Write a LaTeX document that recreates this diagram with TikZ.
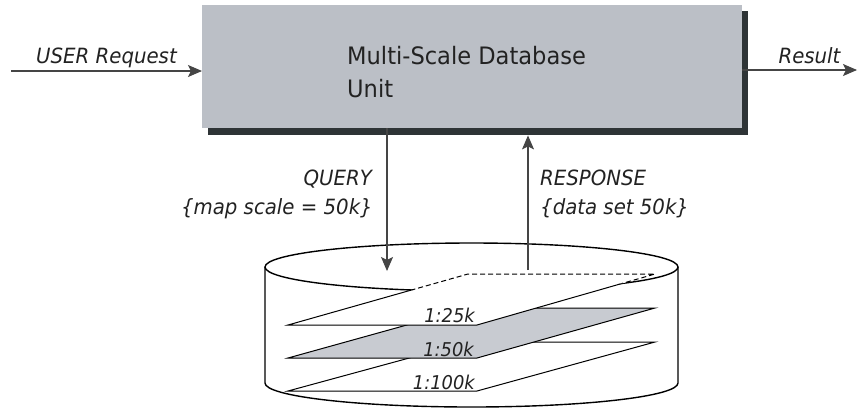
\documentclass[tikz,border=0pt]{standalone}
\usepackage{fontspec}
\setmainfont{DejaVu Sans}[FakeStretch=0.94]
\usetikzlibrary{arrows.meta}

\definecolor{unitfill}{HTML}{BBBFC6}
\definecolor{unitshade}{HTML}{2E3436}
\definecolor{layerfill}{HTML}{C8CBD1}
\definecolor{inktext}{HTML}{222222}
\definecolor{inkline}{HTML}{454545}

\begin{document}
\begin{tikzpicture}[x=1pt,y=1pt,
  flow/.style={draw=inkline, line width=1.1pt,
    -{Stealth[length=14pt,width=12pt,inset=3pt]}},
  lbl/.style={inner sep=0pt, text=inktext,
    font=\fontsize{21}{25}\selectfont\itshape},
  title/.style={inner sep=0pt, text=inktext,
    font=\fontsize{24}{29}\selectfont},
  scalelbl/.style={inner sep=0pt, text=inktext, anchor=base east,
    font=\fontsize{19}{23}\selectfont\itshape},
  rim/.style={draw=black, line width=1.4pt},
  layer/.style={draw=black, line width=1pt, line join=miter},
]
\path[use as bounding box] (0,0) rectangle (858,-408);

% processing unit with its drop shadow
\node[fill=unitshade, inner sep=0pt, minimum width=540pt, minimum height=124pt,
      anchor=north west] (unitshadow) at (208,-11) {};
\node[fill=unitfill, inner sep=0pt, minimum width=540pt, minimum height=123pt,
      anchor=north west] (unit) at (202,-5) {};
\node[title, anchor=base west] (unitname1) at (347,-64) {Multi-Scale Database};
\node[title, anchor=base west] (unitname2) at (347,-97) {Unit};

% input and output
\coordinate (inStart) at (11,-71);
\coordinate (outEnd) at (857,-70);
\draw[flow] (inStart) -- (inStart -| unit.west);
\draw[flow] (outEnd -| unit.east) -- (outEnd);
\node[lbl, anchor=base] (userreq) at (106.5,-63) {USER Request};
\node[lbl, anchor=base] (result) at (809.5,-63) {Result};

% database cylinder
\draw[rim] (265,-267) -- (265,-383)
  arc[start angle=180, end angle=360, x radius=206.5, y radius=24]
  -- (678,-267);
\draw[rim] (471.5,-267) ellipse[x radius=206.5, y radius=24];

% scale layers, lowest first so that upper layers hide lower ones
\filldraw[layer, fill=white]
  (288,-391) -- (477,-391) -- (655,-342) -- (468,-342) -- cycle;
\filldraw[layer, fill=layerfill]
  (288,-358) -- (477,-358) -- (655,-308) -- (468,-308) -- cycle;
\fill[white] (288,-325) -- (477,-325) -- (655,-274) -- (468,-274) -- cycle;
\begin{scope}
  \clip (265,-267) arc[start angle=180, end angle=360, x radius=206.5, y radius=24]
    -- (678,-408) -- (265,-408) -- cycle;
  \draw[layer] (288,-325) -- (477,-325) -- (655,-274) -- (468,-274) -- cycle;
\end{scope}
\begin{scope}
  \clip (471.5,-267) ellipse[x radius=206.5, y radius=24];
  \draw[layer, dashed, dash pattern=on 5pt off 3pt]
    (288,-325) -- (477,-325) -- (655,-274) -- (468,-274) -- cycle;
\end{scope}
\node[scalelbl] (s25) at (475,-322) {1:25k};
\node[scalelbl] (s50) at (474,-356) {1:50k};
\node[scalelbl] (s100) at (475,-389) {1:100k};

% query and response
\coordinate (qEnd) at (387,-271);
\coordinate (rStart) at (528,-270);
\draw[flow] (qEnd |- unit.south) -- (qEnd);
\draw[flow] (rStart) -- (rStart |- unitshadow.south);
\node[lbl, anchor=base east] (query1) at (372,-185) {QUERY};
\node[lbl, anchor=base east] (query2) at (373,-214) {\{map scale = 50k\}};
\node[lbl, anchor=base west] (resp1) at (540,-185) {RESPONSE};
\node[lbl, anchor=base west] (resp2) at (540,-214) {\{data set 50k\}};
\end{tikzpicture}
\end{document}
